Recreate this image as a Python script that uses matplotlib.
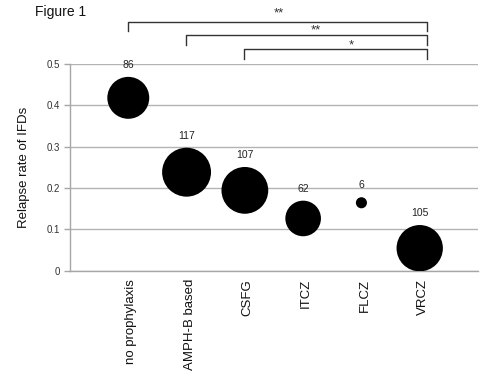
import numpy as np
import matplotlib
matplotlib.use("Agg")
import matplotlib.pyplot as plt
from matplotlib.transforms import blended_transform_factory, offset_copy

# ---------------------------------------------------------------------------
# DATA
# ---------------------------------------------------------------------------
groups = ["no prophylaxis", "AMPH-B based", "CSFG", "ITCZ", "FLCZ", "VRCZ"]
relapse_rate = [0.418, 0.238, 0.194, 0.126, 0.164, 0.054]
n_patients = [86, 117, 107, 62, 6, 105]

# significance brackets: (from group index, to group index, label)
brackets = [(0, 5, "**"), (1, 5, "**"), (2, 5, "*")]

plt.rcParams['font.family'] = ['Liberation Sans', 'DejaVu Sans']

fig = plt.figure(figsize=(5.0, 3.83), dpi=100)
ax = fig.add_axes([0.140, 0.2937, 0.816, 0.5393])

x = np.arange(1, len(groups) + 1)
sizes = np.array(n_patients) * 10.6   # bubble area ~ number of patients
ax.scatter(x, relapse_rate, s=sizes, color='black', zorder=3, linewidths=0)

# n labels above each bubble
for xi, yi, n, s in zip(x, relapse_rate, n_patients, sizes):
    ax.annotate(str(n), (xi, yi), xytext=(0, np.sqrt(s) / 2 + 8.6),
                textcoords='offset points', ha='center', va='center',
                fontsize=7.5, color='#222222')

ax.set_xlim(0, 7)
ax.set_ylim(0, 0.5)
ax.set_yticks([0, 0.1, 0.2, 0.3, 0.4, 0.5])
ax.set_yticklabels(["0", "0.1", "0.2", "0.3", "0.4", "0.5"])
ax.set_xticks(x)
ax.set_xticklabels(groups, rotation=90, va='top', ha='center')
ax.tick_params(axis='x', length=0, pad=6, labelsize=9.5, labelcolor='#111111')
ax.tick_params(axis='y', length=4, width=1, color='#a6a6a6', pad=3,
               labelsize=7, labelcolor='#333333')
for lab in ax.get_xticklabels():
    lab.set_transform(offset_copy(lab.get_transform(), fig=fig, x=3, y=0, units='dots'))

ax.yaxis.grid(True, color='#b3b3b3', linewidth=1)
ax.set_axisbelow(True)
for side in ['top', 'right']:
    ax.spines[side].set_visible(False)
for side in ['left', 'bottom']:
    ax.spines[side].set_color('#a6a6a6')
    ax.spines[side].set_linewidth(1)

ax.set_ylabel("Relapse rate of IFDs", fontsize=9.5, color='#111111', labelpad=12)

# significance brackets above the axes
trans = blended_transform_factory(ax.transData, ax.transAxes)
bracket_y = [1.205, 1.140, 1.071]
bracket_drop = 0.046
star_pos = [(3.58, 1.245), (4.22, 1.160), (4.83, 1.092)]
for (i, j, lab), yb, (sx, sy) in zip(brackets, bracket_y, star_pos):
    x0 = x[i] - 0.01
    x1 = x[j] + 0.12
    ax.plot([x0, x0, x1, x1], [yb - bracket_drop, yb, yb, yb - bracket_drop],
            transform=trans, color='#333333', linewidth=1, clip_on=False)
    ax.text(sx, sy, lab, transform=trans, ha='center', va='center',
            fontsize=9.5, color='#333333')

fig.text(0.07, 0.969, "Figure 1", fontsize=10, ha='left', va='center', color='#111111')

fig.savefig("out.png", dpi=100)
